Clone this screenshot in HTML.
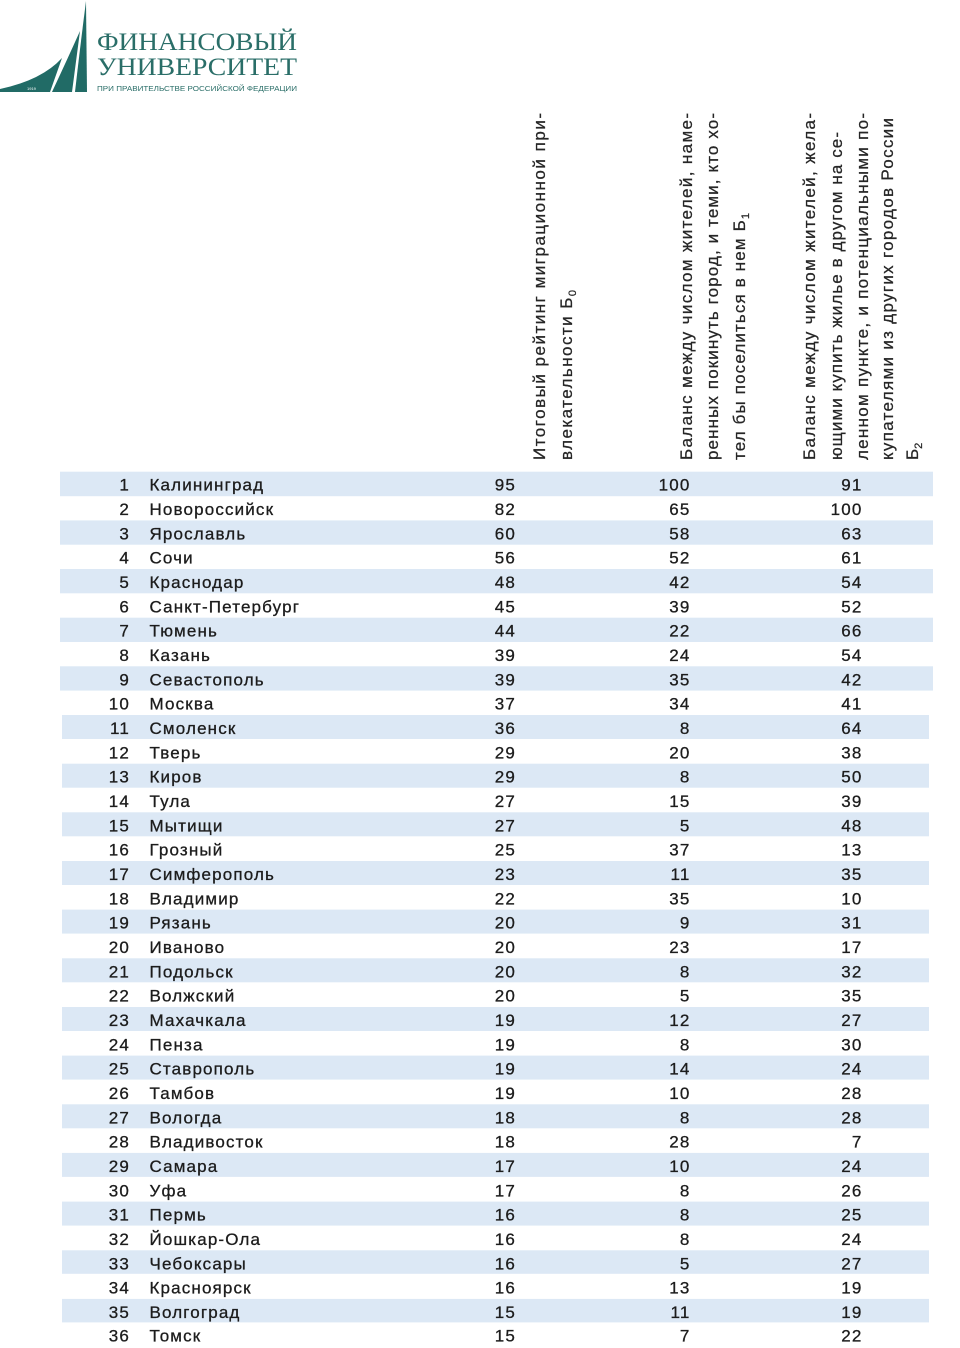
<!DOCTYPE html>
<html><head><meta charset="utf-8"><style>
html,body{margin:0;padding:0;background:#fff;}
svg{display:block;}
.b{font-family:"Liberation Sans","Noto Sans CJK SC",sans-serif;font-size:17px;fill:#1c1c1c;stroke:#1c1c1c;stroke-width:0.3px;letter-spacing:1.15px;}
.h{font-family:"Liberation Sans","Noto Sans CJK SC",sans-serif;font-size:17px;fill:#262626;stroke:#262626;stroke-width:0.25px;}
.e{text-anchor:end;}
</style></head><body>
<svg width="960" height="1348" viewBox="0 0 960 1348" xmlns="http://www.w3.org/2000/svg">
<!-- logo -->
<g fill="#216b66">
<path d="M86,1 L87,92 L75,92 Q80,48 86,1 Z"/>
<path d="M80,31 L72,92 L52,92 Q67,60 80,31 Z"/>
<path d="M62,58 L50,92 L0,92 L0,89 Q42,80 62,58 Z"/>
</g>
<text x="27" y="90" font-family="Liberation Sans,sans-serif" font-size="4" fill="#fff">1919</text>
<text x="97" y="50" textLength="200" lengthAdjust="spacingAndGlyphs" font-family="Liberation Serif,serif" font-size="25" fill="#2a6e68">ФИНАНСОВЫЙ</text>
<text x="97" y="75" textLength="200" lengthAdjust="spacingAndGlyphs" font-family="Liberation Serif,serif" font-size="25" fill="#2a6e68">УНИВЕРСИТЕТ</text>
<text x="97" y="91" textLength="200" lengthAdjust="spacingAndGlyphs" font-family="Liberation Sans,sans-serif" font-size="7" fill="#2a6e68">ПРИ ПРАВИТЕЛЬСТВЕ РОССИЙСКОЙ ФЕДЕРАЦИИ</text>

<!-- headers -->
<text class="h" transform="translate(545,460) rotate(-90)" textLength="347" lengthAdjust="spacing">Итоговый рейтинг миграционной при-</text>
<text class="h" transform="translate(572,460) rotate(-90)" textLength="170" lengthAdjust="spacing">влекательности Б<tspan font-size="11" dy="4">0</tspan></text>
<text class="h" transform="translate(692,460) rotate(-90)" textLength="347" lengthAdjust="spacing">Баланс между числом жителей, наме-</text>
<text class="h" transform="translate(718,460) rotate(-90)" textLength="347" lengthAdjust="spacing">ренных покинуть город, и теми, кто хо-</text>
<text class="h" transform="translate(745,460) rotate(-90)" textLength="247" lengthAdjust="spacing">тел бы поселиться в нем Б<tspan font-size="11" dy="4">1</tspan></text>
<text class="h" transform="translate(815,460) rotate(-90)" textLength="347" lengthAdjust="spacing">Баланс между числом жителей, жела-</text>
<text class="h" transform="translate(842,460) rotate(-90)" textLength="328" lengthAdjust="spacing">ющими купить жилье в другом на се-</text>
<text class="h" transform="translate(868,460) rotate(-90)" textLength="347" lengthAdjust="spacing">ленном пункте, и потенциальными по-</text>
<text class="h" transform="translate(893,460) rotate(-90)" textLength="342" lengthAdjust="spacing">купателями из других городов России</text>
<text class="h" transform="translate(918,460) rotate(-90)">Б<tspan font-size="11" dy="4">2</tspan></text>

<!-- stripes -->
<g fill="#dce8f5">
<rect x="60" y="471.7" width="873" height="24.5"/>
<rect x="60" y="520.4" width="873" height="24.3"/>
<rect x="60" y="569.0" width="873" height="24.3"/>
<rect x="60" y="617.7" width="873" height="24.3"/>
<rect x="60" y="666.3" width="873" height="24.3"/>
<rect x="62" y="715.0" width="867" height="24"/>
<rect x="62" y="763.7" width="867" height="24"/>
<rect x="62" y="812.3" width="867" height="24"/>
<rect x="62" y="861.0" width="867" height="24"/>
<rect x="62" y="909.6" width="867" height="24"/>
<rect x="62" y="958.3" width="867" height="24"/>
<rect x="62" y="1007.0" width="867" height="24"/>
<rect x="62" y="1055.6" width="867" height="24"/>
<rect x="62" y="1104.3" width="867" height="24"/>
<rect x="62" y="1152.9" width="867" height="24"/>
<rect x="62" y="1201.6" width="867" height="24"/>
<rect x="62" y="1250.3" width="867" height="23.5"/>
<rect x="62" y="1298.9" width="867" height="23.5"/>
</g>

<!-- rows -->
<g class="b">
<text class="e" x="130" y="490.7">1</text><text x="149.5" y="490.7">Калининград</text><text class="e" x="516" y="490.7">95</text><text class="e" x="690.5" y="490.7">100</text><text class="e" x="862.5" y="490.7">91</text>
<text class="e" x="130" y="515.0">2</text><text x="149.5" y="515.0">Новороссийск</text><text class="e" x="516" y="515.0">82</text><text class="e" x="690.5" y="515.0">65</text><text class="e" x="862.5" y="515.0">100</text>
<text class="e" x="130" y="539.4">3</text><text x="149.5" y="539.4">Ярославль</text><text class="e" x="516" y="539.4">60</text><text class="e" x="690.5" y="539.4">58</text><text class="e" x="862.5" y="539.4">63</text>
<text class="e" x="130" y="563.7">4</text><text x="149.5" y="563.7">Сочи</text><text class="e" x="516" y="563.7">56</text><text class="e" x="690.5" y="563.7">52</text><text class="e" x="862.5" y="563.7">61</text>
<text class="e" x="130" y="588.0">5</text><text x="149.5" y="588.0">Краснодар</text><text class="e" x="516" y="588.0">48</text><text class="e" x="690.5" y="588.0">42</text><text class="e" x="862.5" y="588.0">54</text>
<text class="e" x="130" y="612.4">6</text><text x="149.5" y="612.4">Санкт-Петербург</text><text class="e" x="516" y="612.4">45</text><text class="e" x="690.5" y="612.4">39</text><text class="e" x="862.5" y="612.4">52</text>
<text class="e" x="130" y="636.7">7</text><text x="149.5" y="636.7">Тюмень</text><text class="e" x="516" y="636.7">44</text><text class="e" x="690.5" y="636.7">22</text><text class="e" x="862.5" y="636.7">66</text>
<text class="e" x="130" y="661.0">8</text><text x="149.5" y="661.0">Казань</text><text class="e" x="516" y="661.0">39</text><text class="e" x="690.5" y="661.0">24</text><text class="e" x="862.5" y="661.0">54</text>
<text class="e" x="130" y="685.3">9</text><text x="149.5" y="685.3">Севастополь</text><text class="e" x="516" y="685.3">39</text><text class="e" x="690.5" y="685.3">35</text><text class="e" x="862.5" y="685.3">42</text>
<text class="e" x="130" y="709.7">10</text><text x="149.5" y="709.7">Москва</text><text class="e" x="516" y="709.7">37</text><text class="e" x="690.5" y="709.7">34</text><text class="e" x="862.5" y="709.7">41</text>
<text class="e" x="130" y="734.0">11</text><text x="149.5" y="734.0">Смоленск</text><text class="e" x="516" y="734.0">36</text><text class="e" x="690.5" y="734.0">8</text><text class="e" x="862.5" y="734.0">64</text>
<text class="e" x="130" y="758.3">12</text><text x="149.5" y="758.3">Тверь</text><text class="e" x="516" y="758.3">29</text><text class="e" x="690.5" y="758.3">20</text><text class="e" x="862.5" y="758.3">38</text>
<text class="e" x="130" y="782.7">13</text><text x="149.5" y="782.7">Киров</text><text class="e" x="516" y="782.7">29</text><text class="e" x="690.5" y="782.7">8</text><text class="e" x="862.5" y="782.7">50</text>
<text class="e" x="130" y="807.0">14</text><text x="149.5" y="807.0">Тула</text><text class="e" x="516" y="807.0">27</text><text class="e" x="690.5" y="807.0">15</text><text class="e" x="862.5" y="807.0">39</text>
<text class="e" x="130" y="831.3">15</text><text x="149.5" y="831.3">Мытищи</text><text class="e" x="516" y="831.3">27</text><text class="e" x="690.5" y="831.3">5</text><text class="e" x="862.5" y="831.3">48</text>
<text class="e" x="130" y="855.7">16</text><text x="149.5" y="855.7">Грозный</text><text class="e" x="516" y="855.7">25</text><text class="e" x="690.5" y="855.7">37</text><text class="e" x="862.5" y="855.7">13</text>
<text class="e" x="130" y="880.0">17</text><text x="149.5" y="880.0">Симферополь</text><text class="e" x="516" y="880.0">23</text><text class="e" x="690.5" y="880.0">11</text><text class="e" x="862.5" y="880.0">35</text>
<text class="e" x="130" y="904.3">18</text><text x="149.5" y="904.3">Владимир</text><text class="e" x="516" y="904.3">22</text><text class="e" x="690.5" y="904.3">35</text><text class="e" x="862.5" y="904.3">10</text>
<text class="e" x="130" y="928.6">19</text><text x="149.5" y="928.6">Рязань</text><text class="e" x="516" y="928.6">20</text><text class="e" x="690.5" y="928.6">9</text><text class="e" x="862.5" y="928.6">31</text>
<text class="e" x="130" y="953.0">20</text><text x="149.5" y="953.0">Иваново</text><text class="e" x="516" y="953.0">20</text><text class="e" x="690.5" y="953.0">23</text><text class="e" x="862.5" y="953.0">17</text>
<text class="e" x="130" y="977.3">21</text><text x="149.5" y="977.3">Подольск</text><text class="e" x="516" y="977.3">20</text><text class="e" x="690.5" y="977.3">8</text><text class="e" x="862.5" y="977.3">32</text>
<text class="e" x="130" y="1001.6">22</text><text x="149.5" y="1001.6">Волжский</text><text class="e" x="516" y="1001.6">20</text><text class="e" x="690.5" y="1001.6">5</text><text class="e" x="862.5" y="1001.6">35</text>
<text class="e" x="130" y="1026.0">23</text><text x="149.5" y="1026.0">Махачкала</text><text class="e" x="516" y="1026.0">19</text><text class="e" x="690.5" y="1026.0">12</text><text class="e" x="862.5" y="1026.0">27</text>
<text class="e" x="130" y="1050.3">24</text><text x="149.5" y="1050.3">Пенза</text><text class="e" x="516" y="1050.3">19</text><text class="e" x="690.5" y="1050.3">8</text><text class="e" x="862.5" y="1050.3">30</text>
<text class="e" x="130" y="1074.6">25</text><text x="149.5" y="1074.6">Ставрополь</text><text class="e" x="516" y="1074.6">19</text><text class="e" x="690.5" y="1074.6">14</text><text class="e" x="862.5" y="1074.6">24</text>
<text class="e" x="130" y="1099.0">26</text><text x="149.5" y="1099.0">Тамбов</text><text class="e" x="516" y="1099.0">19</text><text class="e" x="690.5" y="1099.0">10</text><text class="e" x="862.5" y="1099.0">28</text>
<text class="e" x="130" y="1123.3">27</text><text x="149.5" y="1123.3">Вологда</text><text class="e" x="516" y="1123.3">18</text><text class="e" x="690.5" y="1123.3">8</text><text class="e" x="862.5" y="1123.3">28</text>
<text class="e" x="130" y="1147.6">28</text><text x="149.5" y="1147.6">Владивосток</text><text class="e" x="516" y="1147.6">18</text><text class="e" x="690.5" y="1147.6">28</text><text class="e" x="862.5" y="1147.6">7</text>
<text class="e" x="130" y="1171.9">29</text><text x="149.5" y="1171.9">Самара</text><text class="e" x="516" y="1171.9">17</text><text class="e" x="690.5" y="1171.9">10</text><text class="e" x="862.5" y="1171.9">24</text>
<text class="e" x="130" y="1196.3">30</text><text x="149.5" y="1196.3">Уфа</text><text class="e" x="516" y="1196.3">17</text><text class="e" x="690.5" y="1196.3">8</text><text class="e" x="862.5" y="1196.3">26</text>
<text class="e" x="130" y="1220.6">31</text><text x="149.5" y="1220.6">Пермь</text><text class="e" x="516" y="1220.6">16</text><text class="e" x="690.5" y="1220.6">8</text><text class="e" x="862.5" y="1220.6">25</text>
<text class="e" x="130" y="1244.9">32</text><text x="149.5" y="1244.9">Йошкар-Ола</text><text class="e" x="516" y="1244.9">16</text><text class="e" x="690.5" y="1244.9">8</text><text class="e" x="862.5" y="1244.9">24</text>
<text class="e" x="130" y="1269.3">33</text><text x="149.5" y="1269.3">Чебоксары</text><text class="e" x="516" y="1269.3">16</text><text class="e" x="690.5" y="1269.3">5</text><text class="e" x="862.5" y="1269.3">27</text>
<text class="e" x="130" y="1293.6">34</text><text x="149.5" y="1293.6">Красноярск</text><text class="e" x="516" y="1293.6">16</text><text class="e" x="690.5" y="1293.6">13</text><text class="e" x="862.5" y="1293.6">19</text>
<text class="e" x="130" y="1317.9">35</text><text x="149.5" y="1317.9">Волгоград</text><text class="e" x="516" y="1317.9">15</text><text class="e" x="690.5" y="1317.9">11</text><text class="e" x="862.5" y="1317.9">19</text>
<text class="e" x="130" y="1341.3">36</text><text x="149.5" y="1341.3">Томск</text><text class="e" x="516" y="1341.3">15</text><text class="e" x="690.5" y="1341.3">7</text><text class="e" x="862.5" y="1341.3">22</text>
</g>
</svg>
</body></html>
